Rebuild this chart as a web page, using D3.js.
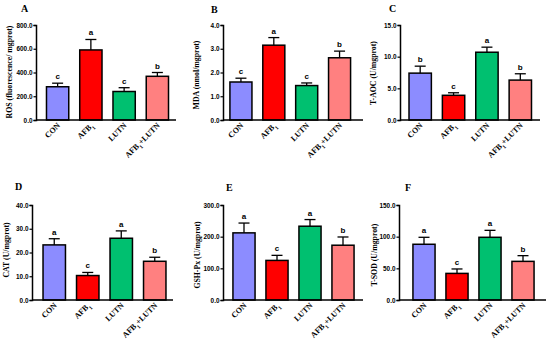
<!DOCTYPE html>
<html>
<head>
<meta charset="utf-8">
<script src="https://cdn.jsdelivr.net/npm/d3@7"></script>
<style>
  body { margin: 0; background: #fff; }
  svg { display: block; }
</style>
</head>
<body>
<div id="chart"></div>
<script>
// groups on the x axis
var groups = ["CON", "AFB1", "LUTN", "AFB1+LUTN"];
var colors = ["#8c8cff", "#ff0000", "#00c070", "#ff8080"];

// means, upper error bar ends and significance letters per panel
var rosMean = [280, 590, 240, 368];
var rosErr = [310, 678, 272, 400];
var rosSig = ["c", "a", "c", "b"];

var mdaMean = [1.6, 3.15, 1.45, 2.62];
var mdaErr = [1.76, 3.47, 1.56, 2.9];
var mdaSig = ["c", "a", "c", "b"];

var taocMean = [7.4, 3.9, 10.7, 6.3];
var taocErr = [8.5, 4.3, 11.5, 7.3];
var taocSig = ["b", "c", "a", "b"];

var catMean = [23.2, 10.3, 26.0, 16.3];
var catErr = [25.8, 11.6, 29.1, 18.0];
var catSig = ["a", "c", "a", "b"];

var gshMean = [212, 125, 233, 173];
var gshErr = [243, 141, 254, 199];
var gshSig = ["a", "c", "a", "b"];

var sodMean = [88, 42, 99, 61];
var sodErr = [99, 49, 110, 70];
var sodSig = ["a", "c", "a", "b"];

// y tick values
var rosTicks = [0, 200, 400, 600, 800];
var mdaTicks = [0, 1, 2, 3, 4];
var taocTicks = [0, 5, 10, 15];
var catTicks = [0, 10, 20, 30, 40];
var gshTicks = [0, 100, 200, 300];
var sodTicks = [0, 50, 100, 150];

var panels = [
  { tag: "A", label: "ROS (fluorescence/ mgprot)", mean: rosMean, err: rosErr, sig: rosSig, ticks: rosTicks,
    ax: 36, band: [41, 174], axEnd: 176, top: 25, zero: 120, tagX: 21, tagY: 12, labX: 9, labY: 72 },
  { tag: "B", label: "MDA (nmol/mgprot)", mean: mdaMean, err: mdaErr, sig: mdaSig, ticks: mdaTicks,
    ax: 223, band: [224.5, 356], axEnd: 363, top: 25, zero: 120, tagX: 211, tagY: 13, labX: 196, labY: 75 },
  { tag: "C", label: "T-AOC (U/mgprot)", mean: taocMean, err: taocErr, sig: taocSig, ticks: taocTicks,
    ax: 400, band: [403.5, 537], axEnd: 540, top: 25, zero: 120, tagX: 389, tagY: 12, labX: 373, labY: 73 },
  { tag: "D", label: "CAT (U/mgprot)", mean: catMean, err: catErr, sig: catSig, ticks: catTicks,
    ax: 32, band: [37.5, 171.5], axEnd: 173, top: 205, zero: 300, tagX: 15, tagY: 190, labX: 6, labY: 250 },
  { tag: "E", label: "GSH-Px (U/mgprot)", mean: gshMean, err: gshErr, sig: gshSig, ticks: gshTicks,
    ax: 223, band: [227.5, 359.5], axEnd: 363, top: 205, zero: 300, tagX: 226, tagY: 191, labX: 197, labY: 255 },
  { tag: "F", label: "T-SOD (U/mgprot)", mean: sodMean, err: sodErr, sig: sodSig, ticks: sodTicks,
    ax: 399, band: [407.5, 539.5], axEnd: 546, top: 205, zero: 300, tagX: 405, tagY: 191, labX: 374, labY: 255 }
];

var svg = d3.select("#chart").append("svg")
  .attr("width", 550)
  .attr("height", 346);

var serif = "'Liberation Serif', 'Times New Roman', serif";
var sans = "'Liberation Sans', Arial, sans-serif";

panels.forEach(function (p) {
  var g = svg.append("g");

  var x = d3.scaleBand().domain(groups).range(p.band).paddingInner(0.33).paddingOuter(0.165);
  var y = d3.scaleLinear()
    .domain([0, d3.max(p.ticks)])
    .range([p.zero, p.top]);

  // bars
  g.selectAll(".bar")
    .data(groups)
    .join("rect")
    .attr("class", "bar")
    .attr("x", function (d) { return x(d); })
    .attr("y", function (d, i) { return y(p.mean[i]); })
    .attr("width", x.bandwidth())
    .attr("height", function (d, i) { return y(0) - y(p.mean[i]); })
    .attr("fill", function (d, i) { return colors[i]; })
    .attr("stroke", "#000")
    .attr("stroke-width", 1.5);

  // error bars (upper only)
  var eb = g.selectAll(".err")
    .data(groups)
    .join("g")
    .attr("class", "err")
    .attr("stroke", "#000")
    .attr("stroke-width", 1.3);
  eb.append("line")
    .attr("x1", function (d) { return x(d) + x.bandwidth() / 2; })
    .attr("x2", function (d) { return x(d) + x.bandwidth() / 2; })
    .attr("y1", function (d, i) { return y(p.mean[i]); })
    .attr("y2", function (d, i) { return y(p.err[i]); });
  eb.append("line")
    .attr("x1", function (d) { return x(d) + x.bandwidth() / 2 - 5.5; })
    .attr("x2", function (d) { return x(d) + x.bandwidth() / 2 + 5.5; })
    .attr("y1", function (d, i) { return y(p.err[i]); })
    .attr("y2", function (d, i) { return y(p.err[i]); });

  // significance letters
  g.selectAll(".sig")
    .data(groups)
    .join("text")
    .attr("class", "sig")
    .attr("x", function (d) { return x(d) + x.bandwidth() / 2; })
    .attr("y", function (d, i) { return y(p.err[i]) - 4; })
    .attr("text-anchor", "middle")
    .style("font-family", sans)
    .style("font-weight", "bold")
    .style("font-size", "8px")
    .text(function (d, i) { return p.sig[i]; });

  // y axis
  var yAxis = g.append("g")
    .attr("transform", "translate(" + p.ax + ",0)")
    .call(d3.axisLeft(y).tickValues(p.ticks).tickFormat(d3.format(".1f")).tickSize(2.5).tickPadding(1));
  yAxis.select(".domain").attr("stroke-width", 1.5);
  yAxis.selectAll(".tick line").attr("stroke-width", 1.2);
  yAxis.selectAll("text")
    .style("font-family", sans)
    .style("font-weight", "bold")
    .style("font-size", "6.4px");

  // x axis line
  g.append("line")
    .attr("x1", p.ax)
    .attr("x2", p.axEnd)
    .attr("y1", y(0))
    .attr("y2", y(0))
    .attr("stroke", "#000")
    .attr("stroke-width", 1.5);

  // category labels, rotated
  var cat = g.selectAll(".cat")
    .data(groups)
    .join("text")
    .attr("class", "cat")
    .attr("text-anchor", "end")
    .attr("transform", function (d) {
      return "translate(" + (x(d) + x.bandwidth() / 2 + 3) + "," + (y(0) + 6) + ") rotate(-45)";
    })
    .style("font-family", serif)
    .style("font-weight", "bold")
    .style("font-size", "8px");
  cat.each(function (d) {
    var t = d3.select(this);
    if (d.indexOf("AFB1") === 0) {
      t.append("tspan").text("AFB");
      t.append("tspan").attr("baseline-shift", "sub").style("font-size", "5.5px").text("1");
      if (d.length > 4) t.append("tspan").text("+LUTN");
    } else {
      t.text(d);
    }
  });

  // y label
  g.append("text")
    .attr("transform", "translate(" + p.labX + "," + p.labY + ") rotate(-90)")
    .attr("text-anchor", "middle")
    .attr("dy", "0.35em")
    .style("font-family", serif)
    .style("font-weight", "bold")
    .style("font-size", "7.8px")
    .text(p.label);

  // panel tag
  g.append("text")
    .attr("x", p.tagX)
    .attr("y", p.tagY)
    .style("font-family", serif)
    .style("font-weight", "bold")
    .style("font-size", "10px")
    .text(p.tag);
});
</script>
</body>
</html>
